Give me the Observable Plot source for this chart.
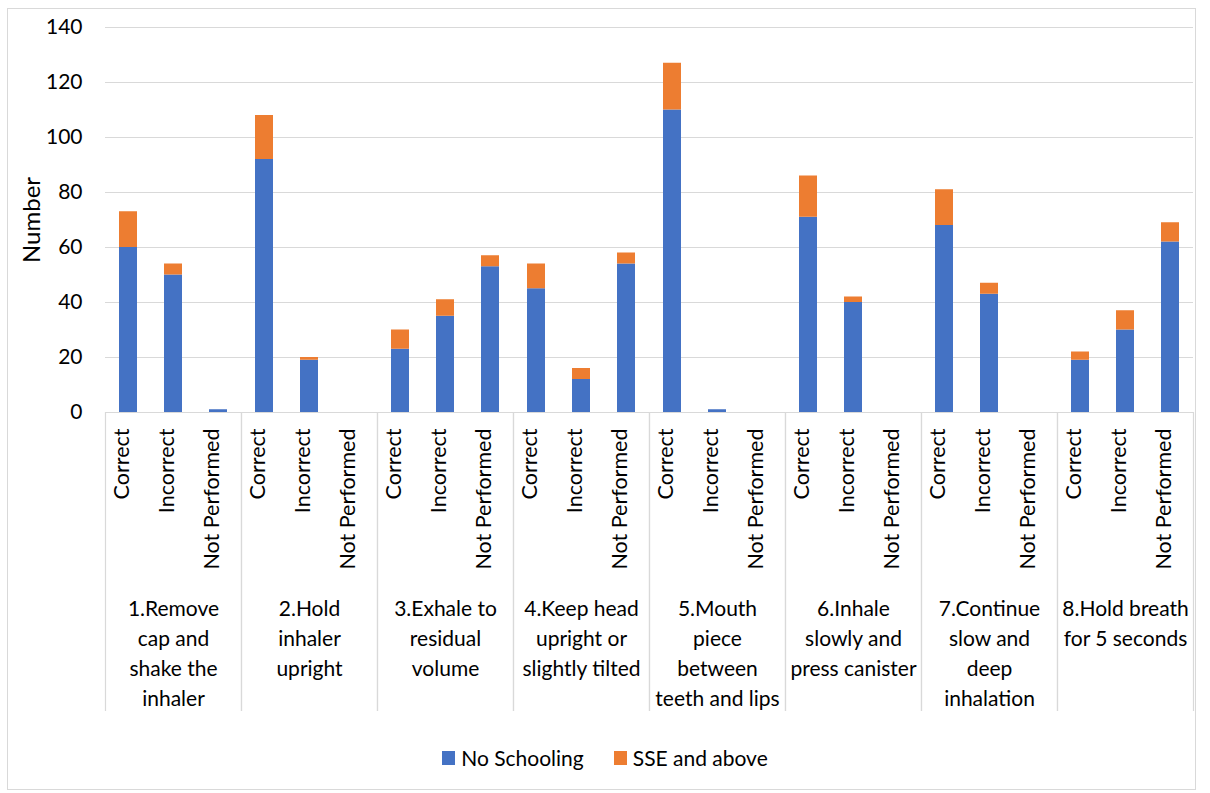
<!DOCTYPE html>
<html>
<head>
<meta charset="utf-8">
<script src="https://cdn.jsdelivr.net/npm/d3@7"></script>
<script src="https://cdn.jsdelivr.net/npm/@observablehq/plot@0.6"></script>
<style>
  html, body { margin: 0; padding: 0; background: #fff; }
  #wrap { position: relative; width: 1210px; height: 793px; overflow: hidden; font-family: Lato, "Noto Sans", sans-serif; }
  #border { position: absolute; left: 7px; top: 8px; width: 1189px; height: 782px; border: 1px solid #d9d9d9; box-sizing: border-box; }
  #chart { position: absolute; left: 0; top: 0; }
  #legend { position: absolute; left: 0; top: 745px; width: 1210px; display: flex; justify-content: center; align-items: center; font-size: 21px; color: #000; }
  .item { display: flex; align-items: center; margin: 0 15px; }
  .sw { width: 13px; height: 14px; margin-right: 6px; }
</style>
</head>
<body>
<div id="wrap">
  <div id="border"></div>
  <div id="chart"></div>
  <div id="legend"></div>
</div>
<script>
const groups = [
  "1.Remove\ncap and\nshake the\ninhaler",
  "2.Hold\ninhaler\nupright",
  "3.Exhale to\nresidual\nvolume",
  "4.Keep head\nupright or\nslightly tilted",
  "5.Mouth\npiece\nbetween\nteeth and lips",
  "6.Inhale\nslowly and\npress canister",
  "7.Continue\nslow and\ndeep\ninhalation",
  "8.Hold breath\nfor 5 seconds"
];
const responses = ["Correct", "Incorrect", "Not Performed"];
const series = ["No Schooling", "SSE and above"];
const colors = ["#4472C4", "#ED7D31"];
// values in group order, 3 responses per group
const noSchooling = [60, 50, 1, 92, 19, 0, 23, 35, 53, 45, 12, 54, 110, 1, 0, 71, 40, 0, 68, 43, 0, 19, 30, 62];
const sseAbove    = [13, 4, 0, 16, 1, 0, 7, 6, 4, 9, 4, 4, 17, 0, 0, 15, 2, 0, 13, 4, 0, 3, 7, 7];
const yTicks = [0, 20, 40, 60, 80, 100, 120, 140];

const cells = [];
groups.forEach((g, gi) => responses.forEach((r, ri) => cells.push({group: g, response: r, i: gi * 3 + ri})));
const table = [];
cells.forEach(c => {
  table.push({group: c.group, response: c.response, series: series[0], value: noSchooling[c.i]});
  table.push({group: c.group, response: c.response, series: series[1], value: sseAbove[c.i]});
});

const W = 1210, H = 735, mt = 27, mb = 323, ml = 102, mr = 15;
const plotH = H - mt - mb;
const gridColor = "#d9d9d9";

const chart = Plot.plot({
  width: W, height: H,
  marginTop: mt, marginBottom: mb, marginLeft: ml, marginRight: mr,
  style: {fontFamily: "Lato, 'Noto Sans', sans-serif", fontSize: "21px", color: "#000", background: "transparent", overflow: "visible"},
  fx: {domain: groups, padding: 0, axis: null},
  x: {domain: responses, paddingInner: 0.6, paddingOuter: 0.3, axis: null},
  y: {domain: [0, 140], axis: null},
  color: {domain: series, range: colors},
  marks: [
    Plot.gridY(yTicks, {stroke: gridColor, strokeOpacity: 1, strokeWidth: 1.2}),
    Plot.ruleY([0], {stroke: gridColor, strokeWidth: 1.2}),
    Plot.frame({anchor: "left", stroke: gridColor, strokeOpacity: 1, strokeWidth: 1.2, insetTop: plotH, insetBottom: -298}),
    Plot.frame({anchor: "right", stroke: gridColor, strokeOpacity: 1, strokeWidth: 1.2, insetTop: plotH, insetBottom: -298}),
    Plot.barY(table, {fx: "group", x: "response", y: "value", fill: "series", order: series}),
    Plot.axisY(yTicks, {tickSize: 0, tickPadding: 23, label: null, fontSize: 21, tickFormat: d => String(d)}),
    Plot.text(["Number"], {fx: () => groups[0], text: d => d, frameAnchor: "left", textAnchor: "middle", rotate: -90, dx: -73, fontSize: 24}),
    Plot.text(cells, {fx: "group", x: "response", text: "response", frameAnchor: "bottom", rotate: -90, textAnchor: "end", dy: 16, fontSize: 21.5}),
    Plot.text(groups, {fx: d => d, text: d => d, frameAnchor: "bottom", lineAnchor: "top", lineHeight: 1.43, dy: 182, fontSize: 21})
  ]
});
document.getElementById("chart").appendChild(chart);

const legend = document.getElementById("legend");
series.forEach((s, i) => {
  const item = document.createElement("div");
  item.className = "item";
  const sw = document.createElement("div");
  sw.className = "sw";
  sw.style.background = colors[i];
  const lab = document.createElement("span");
  lab.textContent = s;
  item.appendChild(sw);
  item.appendChild(lab);
  legend.appendChild(item);
});
</script>
</body>
</html>
